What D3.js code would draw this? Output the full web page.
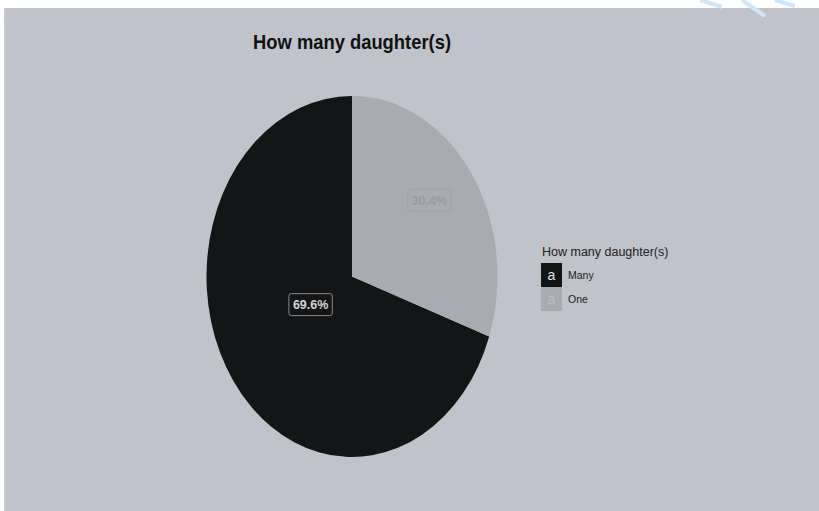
<!DOCTYPE html>
<html lang="en">
<head>
    <meta charset="UTF-8">
    <title>How many daughter(s)</title>
    <script src="https://d3js.org/d3.v7.min.js"></script>
    <style>
        body { margin: 0; background: #fff; font-family: "Liberation Sans", Arial, sans-serif; }
        svg { display: block; }
    </style>
</head>
<body>
    <svg width="819" height="511"></svg>
    <script>
        // data
        const categories = ["Many", "One"];
        const values = [69.6, 30.4];
        const labels = ["69.6%", "30.4%"];

        const sliceColors = { Many: "#141517", One: "#a8abb2" };
        const labelText = { Many: "#d4d4d4", One: "#989aa1" };
        const labelBorder = { Many: "#8a8b8e", One: "#9fa2a8" };
        // labels sit half way out, then get nudged up-right a bit
        const labelR = 0.5, nudge = [18, -24];

        const svg = d3.select("svg");
        const W = 819, H = 511;

        svg.append("rect")
            .attr("x", 4).attr("y", 8)
            .attr("width", W - 4).attr("height", H - 8)
            .attr("fill", "#c0c3cb");

        // watermark strokes top right
        svg.append("path")
            .attr("d", "M700,0 L722,7 M742,0 L765,16 M775,0 L795,6")
            .attr("stroke", "#d2e6fa").attr("stroke-width", 4).attr("fill", "none");

        svg.append("text")
            .attr("x", 352).attr("y", 49)
            .attr("text-anchor", "middle")
            .attr("font-size", 21)
            .attr("font-weight", "bold")
            .attr("textLength", 198)
            .attr("lengthAdjust", "spacingAndGlyphs")
            .attr("fill", "#111")
            .text("How many daughter(s)");

        const cx = 352, cy = 276.5, rx = 145.5, ry = 180.5;
        const data = categories.map((c, i) => ({ cat: c, value: values[i], label: labels[i] }));
        const total = d3.sum(values);

        // One starts at 12 o'clock and runs clockwise, Many fills the rest
        const pie = d3.pie()
            .sort(null)
            .value(d => d.value)
            .startAngle(-2 * Math.PI * values[0] / total)
            .endAngle(2 * Math.PI * (1 - values[0] / total));

        const arcs = pie(data);
        const arc = d3.arc().innerRadius(0).outerRadius(rx);

        const g = svg.append("g")
            .attr("transform", `translate(${cx},${cy}) scale(1,${ry / rx})`);

        g.selectAll("path")
            .data(arcs)
            .enter().append("path")
            .attr("d", arc)
            .attr("fill", d => sliceColors[d.data.cat]);

        // labels
        arcs.forEach(a => {
            const mid = (a.startAngle + a.endAngle) / 2;
            const x = cx + rx * labelR * Math.sin(mid) + nudge[0];
            const y = cy - ry * labelR * Math.cos(mid) + nudge[1];
            const lg = svg.append("g").attr("transform", `translate(${x},${y})`);
            const t = lg.append("text")
                .attr("text-anchor", "middle")
                .attr("dy", "0.36em")
                .attr("font-size", 12.5)
                .attr("font-weight", "bold")
                .attr("fill", labelText[a.data.cat])
                .text(a.data.label);
            const bb = t.node().getBBox();
            lg.insert("rect", "text")
                .attr("x", bb.x - 4).attr("y", -11)
                .attr("width", bb.width + 8).attr("height", 22)
                .attr("rx", 2.5)
                .attr("fill", sliceColors[a.data.cat])
                .attr("stroke", labelBorder[a.data.cat])
                .attr("stroke-width", 1);
        });

        // legend
        const legend = svg.append("g").attr("transform", "translate(541,0)");
        legend.append("text")
            .attr("x", 1).attr("y", 256)
            .attr("font-size", 12.5)
            .attr("fill", "#222")
            .text("How many daughter(s)");

        const keyY = d3.scaleBand().domain(categories).range([263, 311]);
        const item = legend.selectAll(".item")
            .data(categories)
            .enter().append("g")
            .attr("transform", d => `translate(0,${keyY(d)})`);
        item.append("rect")
            .attr("width", 21).attr("height", keyY.bandwidth())
            .attr("fill", d => sliceColors[d]);
        item.append("text")
            .attr("x", 10.5).attr("y", 12).attr("dy", "0.35em")
            .attr("text-anchor", "middle")
            .attr("font-size", 14)
            .attr("fill", d => d === "Many" ? "#e0e0e0" : "#bcbfc6")
            .text("a");
        item.append("text")
            .attr("x", 27).attr("y", 12).attr("dy", "0.35em")
            .attr("font-size", 10.5)
            .attr("fill", "#222")
            .text(d => d);
    </script>
</body>
</html>
